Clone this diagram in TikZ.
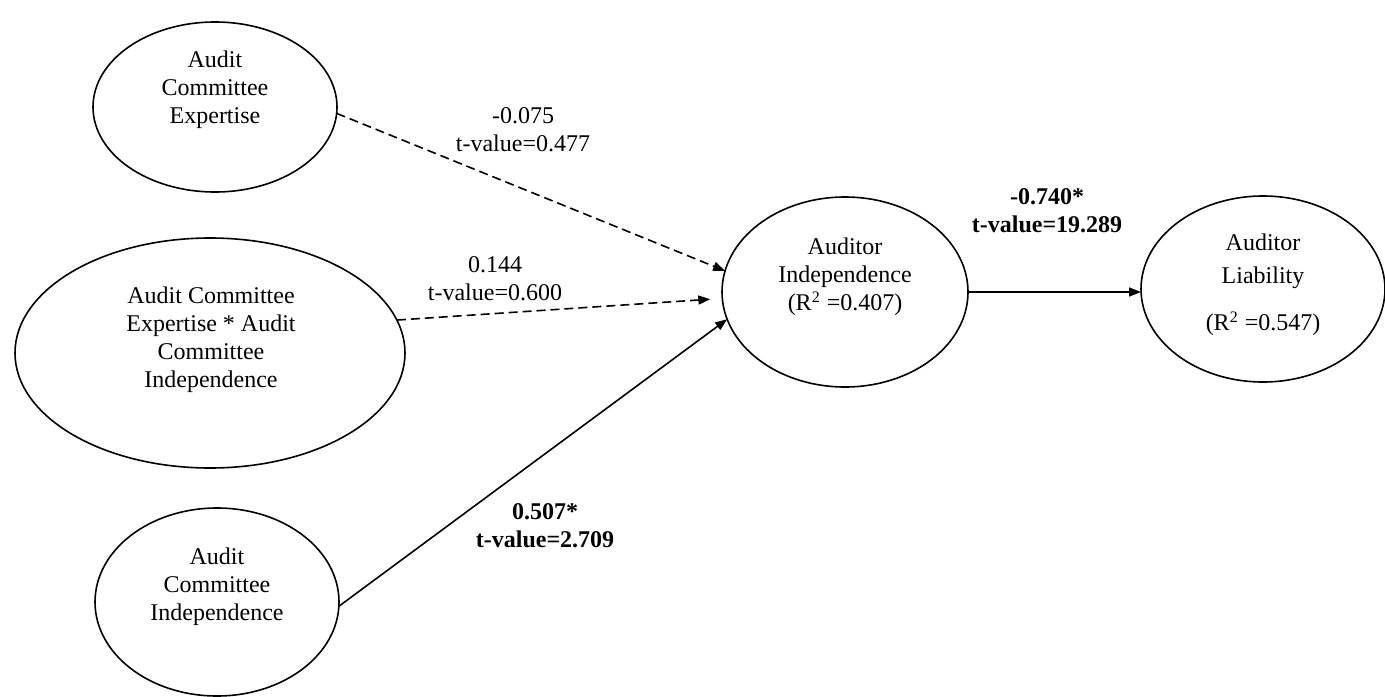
\documentclass[tikz,border=0pt]{standalone}
\usepackage{fontspec}
\setmainfont{Liberation Serif}
\usetikzlibrary{shapes.geometric,arrows.meta}

\begin{document}
\begin{tikzpicture}[x=0.5pt,y=-0.5pt,
    latent/.style={draw,ellipse,line width=0.8pt,inner sep=0pt,outer sep=0pt},
    lbl/.style={align=center,font=\fontsize{12}{14}\selectfont,inner sep=0pt},
    effect/.style={line width=0.8pt,-{Triangle[length=6pt,width=4.5pt]}},
    noeffect/.style={effect,dash pattern=on 4.5pt off 2.5pt}]
      \useasboundingbox (0,0) rectangle (1385,696);
      \node[latent,minimum width=122pt,minimum height=85pt]  (ace)  at (215,107) {};
      \node[latent,minimum width=195pt,minimum height=115pt] (acei) at (210,353) {};
      \node[latent,minimum width=122pt,minimum height=94pt]  (aci)  at (217,602) {};
      \node[latent,minimum width=123pt,minimum height=95pt]  (ind)  at (845,292) {};
      \node[latent,minimum width=122pt,minimum height=93pt]  (lia)  at (1263,289) {};
      \node[lbl] (acetxt)  at (215,90)  {Audit\\Committee\\Expertise};
      \node[lbl] (aceitxt) at (211,340) {Audit Committee\\Expertise * Audit\\Committee\\Independence};
      \node[lbl] (acitxt)  at (217,587) {Audit\\Committee\\Independence};
      \node[lbl] (indtxt)  at (845,277) {Auditor\\Independence\\(R\textsuperscript{2} =0.407)};
      \node[lbl] (liatxt)  at (1263,285) {Auditor\\[2.5pt]Liability\\[9.5pt](R\textsuperscript{2} =0.547)};
      \draw[noeffect] (ace.-3) -- (ind.170);
      \draw[noeffect,shorten >=6pt] (acei.10) -- (ind.183);
      \draw[effect] (aci.-2) -- (ind.193);
      \draw[effect] (ind.east) -- (ind.east -| lia.west);
      \node[lbl] (c1) at (523,130) {-0.075\\t-value=0.477};
      \node[lbl] (c2) at (495,279) {0.144\\t-value=0.600};
      \node[lbl] (c3) at (545,526) {\textbf{0.507*}\\\textbf{t-value=2.709}};
      \node[lbl] (c4) at (1047,211) {\textbf{-0.740*}\\\textbf{t-value=19.289}};
    \end{tikzpicture}
\end{document}
